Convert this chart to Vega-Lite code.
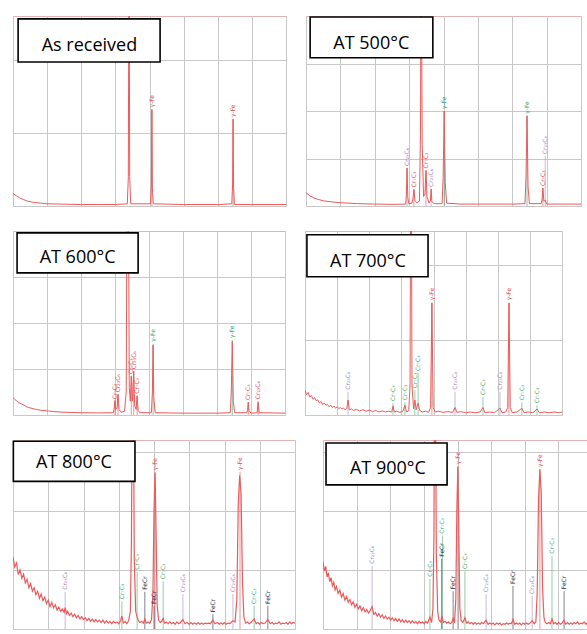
{
  "$schema": "https://vega.github.io/schema/vega-lite/v6.json",
  "background": "white",
  "padding": {"left": 12, "top": 15, "right": 0, "bottom": 0},
  "spacing": 23,
  "config": {
    "view": {"stroke": "#e0b4b4", "strokeWidth": 1},
    "axis": {"grid": true, "gridColor": "#c8c8c8", "gridWidth": 1, "domain": false, "ticks": false, "labels": false}
  },
  "datasets": {
    "p1": [{"t":10,"I":0.17},{"t":11,"I":0.14},{"t":12,"I":0.11},{"t":13,"I":0.09},{"t":14,"I":0.07},{"t":16,"I":0.05},{"t":18,"I":0.04},{"t":20,"I":0.03},{"t":25,"I":0.025},{"t":30,"I":0.02},{"t":35,"I":0.02},{"t":40,"I":0.02},{"t":43.5,"I":0.03},{"t":43.8,"I":0.4},{"t":44.0,"I":4},{"t":44.2,"I":0.4},{"t":44.5,"I":0.03},{"t":50.3,"I":0.03},{"t":50.55,"I":0.3},{"t":50.7,"I":1.32},{"t":50.85,"I":0.25},{"t":51.1,"I":0.03},{"t":60,"I":0.02},{"t":70,"I":0.02},{"t":74.1,"I":0.03},{"t":74.35,"I":0.3},{"t":74.5,"I":1.19},{"t":74.65,"I":0.25},{"t":74.9,"I":0.02},{"t":80,"I":0.02},{"t":90,"I":0.02}],
    "p1l": [{"t":50.7,"I":1.32,"phase":"γ-Fe"},{"t":74.5,"I":1.19,"phase":"γ-Fe"}],
    "p2": [{"t":10,"I":0.28},{"t":11,"I":0.22},{"t":12,"I":0.18},{"t":13,"I":0.15},{"t":14,"I":0.13},{"t":15,"I":0.11},{"t":17,"I":0.09},{"t":20,"I":0.07},{"t":25,"I":0.05},{"t":30,"I":0.04},{"t":35,"I":0.035},{"t":39,"I":0.04},{"t":39.2,"I":0.25},{"t":39.4,"I":0.8},{"t":39.6,"I":0.2},{"t":39.9,"I":0.05},{"t":40.8,"I":0.06},{"t":41.1,"I":0.15},{"t":41.4,"I":0.35},{"t":41.7,"I":0.12},{"t":42.2,"I":0.07},{"t":43.0,"I":0.1},{"t":43.3,"I":1.5},{"t":43.5,"I":6},{"t":43.8,"I":1.3},{"t":44.2,"I":0.2},{"t":44.6,"I":0.25},{"t":44.9,"I":0.75},{"t":45.2,"I":0.2},{"t":45.8,"I":0.06},{"t":46.2,"I":0.12},{"t":46.4,"I":0.36},{"t":46.6,"I":0.1},{"t":47.2,"I":0.05},{"t":49.6,"I":0.05},{"t":49.9,"I":0.6},{"t":50.2,"I":2.0},{"t":50.5,"I":0.5},{"t":50.9,"I":0.06},{"t":55,"I":0.04},{"t":60,"I":0.04},{"t":65,"I":0.04},{"t":70,"I":0.04},{"t":73.7,"I":0.05},{"t":74.0,"I":0.6},{"t":74.3,"I":1.9},{"t":74.6,"I":0.4},{"t":75.0,"I":0.05},{"t":78.4,"I":0.05},{"t":78.7,"I":0.15},{"t":78.9,"I":0.38},{"t":79.2,"I":0.1},{"t":79.6,"I":0.12},{"t":80,"I":0.04},{"t":90,"I":0.04}],
    "p2l": [{"t":39.4,"I":0.8,"phase":"Cr₂₃C₆"},{"t":41.4,"I":0.35,"phase":"Cr₇C₃"},{"t":44.9,"I":0.75,"phase":"Cr₇C₃"},{"t":46.4,"I":0.36,"phase":"Cr₂₃C₆"},{"t":50.2,"I":2.0,"phase":"γ-Fe"},{"t":74.3,"I":1.9,"phase":"γ-Fe"},{"t":78.9,"I":0.38,"phase":"Cr₇C₃"},{"t":79.6,"I":1.05,"phase":"Cr₂₃C₆"}],
    "p3": [{"t":10,"I":0.38},{"t":10.5,"I":0.34},{"t":11,"I":0.31},{"t":11.5,"I":0.28},{"t":12,"I":0.26},{"t":12.5,"I":0.24},{"t":13,"I":0.22},{"t":14,"I":0.18},{"t":15,"I":0.155},{"t":16,"I":0.135},{"t":17,"I":0.12},{"t":18,"I":0.105},{"t":20,"I":0.09},{"t":22,"I":0.075},{"t":25,"I":0.06},{"t":30,"I":0.05},{"t":35,"I":0.045},{"t":39.5,"I":0.05},{"t":39.8,"I":0.15},{"t":40.0,"I":0.32},{"t":40.2,"I":0.12},{"t":40.6,"I":0.15},{"t":40.9,"I":0.45},{"t":41.2,"I":0.12},{"t":41.8,"I":0.06},{"t":42.8,"I":0.08},{"t":43.3,"I":0.5},{"t":43.6,"I":6},{"t":43.9,"I":6},{"t":44.2,"I":0.6},{"t":44.5,"I":0.3},{"t":44.8,"I":0.85},{"t":45.1,"I":0.3},{"t":45.5,"I":0.95},{"t":45.8,"I":0.2},{"t":46.2,"I":0.12},{"t":46.5,"I":0.42},{"t":46.8,"I":0.1},{"t":47.3,"I":0.05},{"t":50.7,"I":0.05},{"t":51.0,"I":0.5},{"t":51.2,"I":1.52},{"t":51.4,"I":0.4},{"t":51.8,"I":0.05},{"t":60,"I":0.04},{"t":70,"I":0.04},{"t":73.9,"I":0.05},{"t":74.2,"I":0.5},{"t":74.5,"I":1.6},{"t":74.8,"I":0.3},{"t":75.2,"I":0.05},{"t":78.8,"I":0.05},{"t":79.0,"I":0.12},{"t":79.2,"I":0.28},{"t":79.4,"I":0.1},{"t":80,"I":0.04},{"t":81.8,"I":0.05},{"t":82.1,"I":0.28},{"t":82.4,"I":0.05},{"t":90,"I":0.04}],
    "p3l": [{"t":40.0,"I":0.3,"phase":"Cr₇C₃"},{"t":40.9,"I":0.45,"phase":"Cr₂₃C₆"},{"t":44.8,"I":0.85,"phase":"Cr₇C₃"},{"t":45.5,"I":0.95,"phase":"Cr₂₃C₆"},{"t":46.5,"I":0.42,"phase":"Cr₇C₃"},{"t":51.2,"I":1.55,"phase":"γ-Fe"},{"t":74.5,"I":1.63,"phase":"γ-Fe"},{"t":79.2,"I":0.28,"phase":"Cr₇C₃"},{"t":82.1,"I":0.3,"phase":"Cr₂₃C₆"}],
    "p4": [{"t":10,"I":0.33},{"t":10.5,"I":0.27},{"t":11,"I":0.3},{"t":11.5,"I":0.24},{"t":12,"I":0.26},{"t":12.5,"I":0.21},{"t":13,"I":0.23},{"t":13.5,"I":0.19},{"t":14,"I":0.2},{"t":14.5,"I":0.16},{"t":15,"I":0.18},{"t":15.5,"I":0.14},{"t":16,"I":0.16},{"t":16.5,"I":0.13},{"t":17,"I":0.14},{"t":17.5,"I":0.11},{"t":18,"I":0.13},{"t":18.5,"I":0.1},{"t":19,"I":0.12},{"t":19.5,"I":0.09},{"t":20,"I":0.11},{"t":20.5,"I":0.085},{"t":21,"I":0.1},{"t":21.5,"I":0.08},{"t":22,"I":0.09},{"t":22.5,"I":0.07},{"t":23,"I":0.085},{"t":23.4,"I":0.2},{"t":23.8,"I":0.07},{"t":24.5,"I":0.08},{"t":25,"I":0.06},{"t":26,"I":0.075},{"t":27,"I":0.055},{"t":28,"I":0.07},{"t":29,"I":0.05},{"t":30,"I":0.065},{"t":31,"I":0.045},{"t":32,"I":0.06},{"t":33,"I":0.04},{"t":34,"I":0.055},{"t":35,"I":0.04},{"t":36,"I":0.05},{"t":37,"I":0.04},{"t":37.4,"I":0.12},{"t":37.8,"I":0.04},{"t":38.5,"I":0.05},{"t":39.5,"I":0.035},{"t":40.5,"I":0.05},{"t":41.1,"I":0.13},{"t":41.6,"I":0.04},{"t":42.3,"I":0.06},{"t":42.7,"I":0.4},{"t":43.0,"I":5},{"t":43.3,"I":0.4},{"t":43.8,"I":0.08},{"t":44.2,"I":0.2},{"t":44.6,"I":0.07},{"t":45.2,"I":0.16},{"t":45.7,"I":0.06},{"t":46.5,"I":0.04},{"t":47.5,"I":0.05},{"t":48.5,"I":0.035},{"t":49.1,"I":0.1},{"t":49.5,"I":1.49},{"t":49.9,"I":0.1},{"t":50.5,"I":0.04},{"t":51.5,"I":0.05},{"t":53,"I":0.035},{"t":54.5,"I":0.045},{"t":56,"I":0.035},{"t":56.7,"I":0.1},{"t":57.3,"I":0.035},{"t":58.5,"I":0.045},{"t":60,"I":0.03},{"t":61.5,"I":0.04},{"t":63,"I":0.03},{"t":64.5,"I":0.04},{"t":65.4,"I":0.1},{"t":66,"I":0.03},{"t":67.5,"I":0.04},{"t":69,"I":0.03},{"t":70.7,"I":0.09},{"t":71.3,"I":0.03},{"t":72.5,"I":0.04},{"t":73.1,"I":0.1},{"t":73.5,"I":1.49},{"t":73.9,"I":0.1},{"t":74.5,"I":0.03},{"t":76,"I":0.04},{"t":77.5,"I":0.09},{"t":78.2,"I":0.03},{"t":79.5,"I":0.04},{"t":81,"I":0.03},{"t":82.2,"I":0.08},{"t":83,"I":0.03},{"t":84.5,"I":0.04},{"t":86,"I":0.03},{"t":87.5,"I":0.04},{"t":89,"I":0.03},{"t":90,"I":0.04}],
    "p4l": [{"t":23.4,"I":0.31,"phase":"Cr₂₃C₆"},{"t":37.4,"I":0.16,"phase":"Cr₇C₃"},{"t":41.1,"I":0.17,"phase":"Cr₇C₃"},{"t":44.2,"I":0.33,"phase":"Cr₇C₃"},{"t":45.2,"I":0.56,"phase":"Cr₇C₃"},{"t":49.5,"I":1.5,"phase":"γ-Fe"},{"t":56.7,"I":0.31,"phase":"Cr₂₃C₆"},{"t":65.4,"I":0.24,"phase":"Cr₇C₃"},{"t":70.7,"I":0.31,"phase":"Cr₂₃C₆"},{"t":73.5,"I":1.5,"phase":"γ-Fe"},{"t":77.5,"I":0.17,"phase":"Cr₇C₃"},{"t":82.2,"I":0.13,"phase":"Cr₇C₃"}],
    "p5": [{"t":10,"I":1.22},{"t":10.5,"I":1.05},{"t":11,"I":1.12},{"t":11.5,"I":0.92},{"t":12,"I":1.0},{"t":12.5,"I":0.86},{"t":13,"I":0.93},{"t":13.5,"I":0.78},{"t":14,"I":0.84},{"t":14.5,"I":0.7},{"t":15,"I":0.77},{"t":15.5,"I":0.64},{"t":16,"I":0.7},{"t":16.5,"I":0.58},{"t":17,"I":0.64},{"t":17.5,"I":0.52},{"t":18,"I":0.59},{"t":18.5,"I":0.48},{"t":19,"I":0.54},{"t":19.5,"I":0.43},{"t":20,"I":0.49},{"t":20.5,"I":0.38},{"t":21,"I":0.45},{"t":21.5,"I":0.36},{"t":22,"I":0.41},{"t":22.5,"I":0.32},{"t":23,"I":0.37},{"t":23.5,"I":0.3},{"t":24,"I":0.34},{"t":24.5,"I":0.28},{"t":24.8,"I":0.36},{"t":25.2,"I":0.26},{"t":25.5,"I":0.3},{"t":26,"I":0.23},{"t":26.5,"I":0.27},{"t":27,"I":0.21},{"t":27.5,"I":0.25},{"t":28,"I":0.19},{"t":28.5,"I":0.23},{"t":29,"I":0.17},{"t":29.5,"I":0.21},{"t":30,"I":0.16},{"t":30.5,"I":0.19},{"t":31,"I":0.14},{"t":31.5,"I":0.18},{"t":32,"I":0.13},{"t":32.5,"I":0.17},{"t":33,"I":0.12},{"t":33.5,"I":0.16},{"t":34,"I":0.12},{"t":34.5,"I":0.15},{"t":35,"I":0.11},{"t":35.5,"I":0.15},{"t":36,"I":0.1},{"t":36.5,"I":0.14},{"t":37,"I":0.1},{"t":37.5,"I":0.13},{"t":38,"I":0.09},{"t":38.5,"I":0.13},{"t":39,"I":0.1},{"t":39.5,"I":0.12},{"t":40,"I":0.09},{"t":40.5,"I":0.14},{"t":40.9,"I":0.22},{"t":41.3,"I":0.1},{"t":41.8,"I":0.13},{"t":42.3,"I":0.09},{"t":42.8,"I":0.14},{"t":43.3,"I":0.3},{"t":43.6,"I":1.5},{"t":44.0,"I":6},{"t":44.4,"I":1.2},{"t":44.8,"I":0.3},{"t":45.2,"I":0.2},{"t":45.6,"I":0.14},{"t":46.0,"I":0.11},{"t":46.5,"I":0.13},{"t":47.0,"I":0.1},{"t":47.4,"I":0.17},{"t":47.8,"I":0.1},{"t":48.3,"I":0.12},{"t":48.8,"I":0.1},{"t":49.3,"I":0.16},{"t":49.7,"I":0.6},{"t":50.0,"I":2.0},{"t":50.3,"I":2.65},{"t":50.6,"I":1.6},{"t":50.9,"I":0.4},{"t":51.3,"I":0.15},{"t":51.8,"I":0.11},{"t":52.2,"I":0.13},{"t":52.6,"I":0.18},{"t":53.0,"I":0.1},{"t":53.5,"I":0.12},{"t":54,"I":0.09},{"t":54.5,"I":0.12},{"t":55,"I":0.09},{"t":55.5,"I":0.11},{"t":56,"I":0.08},{"t":56.5,"I":0.12},{"t":57,"I":0.09},{"t":57.5,"I":0.11},{"t":58.2,"I":0.16},{"t":58.8,"I":0.09},{"t":59.3,"I":0.11},{"t":60,"I":0.08},{"t":60.5,"I":0.11},{"t":61,"I":0.08},{"t":61.5,"I":0.1},{"t":62,"I":0.08},{"t":62.5,"I":0.11},{"t":63,"I":0.08},{"t":63.5,"I":0.1},{"t":64,"I":0.08},{"t":64.5,"I":0.1},{"t":65,"I":0.09},{"t":65.5,"I":0.1},{"t":66,"I":0.09},{"t":66.7,"I":0.15},{"t":67.3,"I":0.09},{"t":68,"I":0.11},{"t":68.5,"I":0.08},{"t":69,"I":0.1},{"t":69.5,"I":0.08},{"t":70,"I":0.11},{"t":70.5,"I":0.08},{"t":71,"I":0.1},{"t":71.5,"I":0.09},{"t":72.4,"I":0.14},{"t":73.0,"I":0.12},{"t":73.5,"I":0.5},{"t":73.9,"I":2.1},{"t":74.3,"I":2.6},{"t":74.7,"I":2.3},{"t":75.1,"I":0.8},{"t":75.5,"I":0.2},{"t":76,"I":0.1},{"t":76.5,"I":0.12},{"t":77,"I":0.09},{"t":77.5,"I":0.11},{"t":78.4,"I":0.17},{"t":79,"I":0.09},{"t":79.5,"I":0.11},{"t":80,"I":0.08},{"t":80.5,"I":0.11},{"t":81,"I":0.09},{"t":81.5,"I":0.1},{"t":82.3,"I":0.16},{"t":83,"I":0.09},{"t":83.5,"I":0.11},{"t":84,"I":0.08},{"t":84.5,"I":0.1},{"t":85,"I":0.09},{"t":85.5,"I":0.12},{"t":86,"I":0.08},{"t":86.5,"I":0.1},{"t":87,"I":0.09},{"t":87.5,"I":0.11},{"t":88,"I":0.08},{"t":88.5,"I":0.12},{"t":89,"I":0.09},{"t":89.5,"I":0.11},{"t":90,"I":0.1}],
    "p5l": [{"t":24.8,"I":0.63,"phase":"Cr₂₃C₆"},{"t":40.9,"I":0.47,"phase":"Cr₇C₃"},{"t":45.2,"I":0.97,"phase":"Cr₇C₃"},{"t":47.4,"I":0.63,"phase":"FeCr"},{"t":50.0,"I":0.39,"phase":"FeCr"},{"t":52.6,"I":0.81,"phase":"Cr₇C₃"},{"t":58.2,"I":0.59,"phase":"Cr₂₃C₆"},{"t":66.7,"I":0.25,"phase":"FeCr"},{"t":72.4,"I":0.59,"phase":"Cr₂₃C₆"},{"t":78.4,"I":0.39,"phase":"Cr₇C₃"},{"t":82.3,"I":0.39,"phase":"FeCr"},{"t":50.3,"I":2.65,"phase":"γ-Fe"},{"t":74.4,"I":2.66,"phase":"γ-Fe"}],
    "p6": [{"t":10,"I":1.14},{"t":10.4,"I":0.98},{"t":10.8,"I":1.06},{"t":11.2,"I":0.88},{"t":11.6,"I":0.95},{"t":12,"I":0.8},{"t":12.4,"I":0.87},{"t":12.8,"I":0.73},{"t":13.2,"I":0.79},{"t":13.6,"I":0.66},{"t":14,"I":0.72},{"t":14.5,"I":0.6},{"t":15,"I":0.66},{"t":15.5,"I":0.54},{"t":16,"I":0.6},{"t":16.5,"I":0.49},{"t":17,"I":0.55},{"t":17.5,"I":0.45},{"t":18,"I":0.5},{"t":18.5,"I":0.41},{"t":19,"I":0.46},{"t":19.5,"I":0.37},{"t":20,"I":0.42},{"t":20.5,"I":0.34},{"t":21,"I":0.39},{"t":21.5,"I":0.31},{"t":22,"I":0.36},{"t":22.5,"I":0.29},{"t":23,"I":0.33},{"t":23.5,"I":0.27},{"t":24,"I":0.31},{"t":24.6,"I":0.38},{"t":25.1,"I":0.25},{"t":25.6,"I":0.28},{"t":26.1,"I":0.22},{"t":26.6,"I":0.26},{"t":27.1,"I":0.2},{"t":27.6,"I":0.24},{"t":28.1,"I":0.18},{"t":28.6,"I":0.22},{"t":29.1,"I":0.17},{"t":29.6,"I":0.2},{"t":30.1,"I":0.15},{"t":30.6,"I":0.19},{"t":31.1,"I":0.14},{"t":31.6,"I":0.18},{"t":32.1,"I":0.13},{"t":32.6,"I":0.17},{"t":33.1,"I":0.12},{"t":33.6,"I":0.16},{"t":34.1,"I":0.11},{"t":34.6,"I":0.15},{"t":35.1,"I":0.11},{"t":35.6,"I":0.14},{"t":36.1,"I":0.1},{"t":36.6,"I":0.14},{"t":37.1,"I":0.1},{"t":37.6,"I":0.13},{"t":38.1,"I":0.09},{"t":38.6,"I":0.13},{"t":39.1,"I":0.1},{"t":39.6,"I":0.12},{"t":40.1,"I":0.09},{"t":40.6,"I":0.13},{"t":41.1,"I":0.1},{"t":41.8,"I":0.2},{"t":42.3,"I":0.11},{"t":42.7,"I":0.35},{"t":43.0,"I":1.6},{"t":43.3,"I":6},{"t":43.7,"I":1.3},{"t":44.1,"I":0.3},{"t":44.5,"I":0.15},{"t":45.0,"I":0.12},{"t":45.4,"I":0.22},{"t":45.8,"I":0.11},{"t":46.3,"I":0.13},{"t":46.8,"I":0.1},{"t":47.3,"I":0.12},{"t":47.8,"I":0.09},{"t":48.3,"I":0.11},{"t":48.7,"I":0.18},{"t":49.1,"I":0.1},{"t":49.5,"I":0.5},{"t":49.8,"I":2.0},{"t":50.1,"I":2.75},{"t":50.4,"I":1.6},{"t":50.7,"I":0.35},{"t":51.1,"I":0.14},{"t":51.6,"I":0.11},{"t":52.2,"I":0.19},{"t":52.7,"I":0.1},{"t":53.2,"I":0.12},{"t":53.7,"I":0.09},{"t":54.2,"I":0.11},{"t":54.7,"I":0.08},{"t":55.2,"I":0.11},{"t":55.7,"I":0.08},{"t":56.2,"I":0.1},{"t":56.7,"I":0.08},{"t":57.2,"I":0.11},{"t":57.7,"I":0.09},{"t":58.5,"I":0.15},{"t":59.1,"I":0.08},{"t":59.6,"I":0.1},{"t":60.1,"I":0.08},{"t":60.6,"I":0.1},{"t":61.1,"I":0.07},{"t":61.6,"I":0.1},{"t":62.1,"I":0.08},{"t":62.6,"I":0.1},{"t":63.1,"I":0.07},{"t":63.6,"I":0.09},{"t":64.1,"I":0.08},{"t":64.6,"I":0.1},{"t":65.1,"I":0.08},{"t":65.6,"I":0.1},{"t":66.0,"I":0.09},{"t":66.5,"I":0.16},{"t":67.0,"I":0.08},{"t":67.5,"I":0.1},{"t":68.0,"I":0.08},{"t":68.5,"I":0.1},{"t":69.0,"I":0.07},{"t":69.5,"I":0.1},{"t":70.0,"I":0.08},{"t":70.5,"I":0.1},{"t":71.0,"I":0.08},{"t":71.6,"I":0.1},{"t":72.2,"I":0.14},{"t":72.8,"I":0.09},{"t":73.3,"I":0.12},{"t":73.7,"I":0.6},{"t":74.1,"I":2.2},{"t":74.5,"I":2.7},{"t":74.9,"I":2.3},{"t":75.3,"I":0.7},{"t":75.7,"I":0.2},{"t":76.1,"I":0.11},{"t":76.6,"I":0.09},{"t":77.1,"I":0.11},{"t":77.6,"I":0.09},{"t":78.1,"I":0.17},{"t":78.6,"I":0.09},{"t":79.1,"I":0.11},{"t":79.6,"I":0.08},{"t":80.1,"I":0.11},{"t":80.6,"I":0.08},{"t":81.1,"I":0.1},{"t":81.7,"I":0.15},{"t":82.2,"I":0.08},{"t":82.7,"I":0.11},{"t":83.2,"I":0.08},{"t":83.7,"I":0.1},{"t":84.2,"I":0.08},{"t":84.7,"I":0.11},{"t":85.2,"I":0.09},{"t":85.7,"I":0.12},{"t":86.2,"I":0.08},{"t":86.7,"I":0.1},{"t":87.2,"I":0.09},{"t":87.7,"I":0.12},{"t":88.2,"I":0.08},{"t":88.7,"I":0.11},{"t":89.2,"I":0.09},{"t":89.7,"I":0.12}],
    "p6l": [{"t":24.6,"I":1.07,"phase":"Cr₂₃C₆"},{"t":41.8,"I":0.85,"phase":"Cr₇C₃"},{"t":45.5,"I":1.58,"phase":"Cr₇C₃"},{"t":45.3,"I":1.19,"phase":"FeCr"},{"t":48.7,"I":0.64,"phase":"FeCr"},{"t":52.2,"I":0.98,"phase":"Cr₇C₃"},{"t":58.5,"I":0.59,"phase":"Cr₂₃C₆"},{"t":66.5,"I":0.73,"phase":"FeCr"},{"t":72.2,"I":0.56,"phase":"Cr₂₃C₆"},{"t":78.1,"I":1.24,"phase":"Cr₇C₃"},{"t":81.7,"I":0.64,"phase":"FeCr"},{"t":50.1,"I":2.75,"phase":"γ-Fe"},{"t":74.5,"I":2.71,"phase":"γ-Fe"}],
    "titles": [{"panel": "p1", "title": "As received"}, {"panel": "p2", "title": "AT 500°C"}, {"panel": "p3", "title": "AT 600°C"}, {"panel": "p4", "title": "AT 700°C"}, {"panel": "p5", "title": "AT 800°C"}, {"panel": "p6", "title": "AT 900°C"}]
  },
  "resolve": {"scale": {"x": "independent", "y": "independent", "color": "independent"}},
  "vconcat": [
    {
      "hconcat": [
        {
          "width": 273, "height": 190,
          "layer": [
            {"data": {"name": "p1l"}, "mark": {"type": "rule", "strokeWidth": 0.7, "opacity": 0.8}, "encoding": {"x": {"field": "t", "type": "quantitative", "scale": {"domain": [10, 90], "nice": false}, "axis": {"values": [10,20,30,40,50,60,70,80,90], "title": null}}, "y": {"field": "I", "type": "quantitative", "scale": {"domain": [0, 2.6], "nice": false, "zero": false}, "axis": {"values": [0,1,2], "title": null}}, "y2": {"datum": 0}, "color": {"field": "phase", "type": "nominal", "scale": {"domain": ["γ-Fe"], "range": ["#e0404a"]}, "legend": null}}},
            {"data": {"name": "p1"}, "mark": {"type": "line", "color": "#ee5a5a", "strokeWidth": 1, "clip": true}, "encoding": {"x": {"field": "t", "type": "quantitative", "scale": {"domain": [10, 90], "nice": false}, "axis": {"values": [10,20,30,40,50,60,70,80,90], "title": null}}, "y": {"field": "I", "type": "quantitative", "scale": {"domain": [0, 2.6], "nice": false, "zero": false}, "axis": {"values": [0,1,2], "title": null}}}},
            {"data": {"name": "p1l"}, "mark": {"type": "text", "angle": 270, "align": "left", "baseline": "middle", "dx": 2, "fontSize": 6, "font": "DejaVu Sans"}, "encoding": {"x": {"field": "t", "type": "quantitative", "scale": {"domain": [10, 90], "nice": false}, "axis": {"values": [10,20,30,40,50,60,70,80,90], "title": null}}, "y": {"field": "I", "type": "quantitative", "scale": {"domain": [0, 2.6], "nice": false, "zero": false}, "axis": {"values": [0,1,2], "title": null}}, "text": {"field": "phase"}, "color": {"field": "phase", "type": "nominal", "scale": {"domain": ["γ-Fe"], "range": ["#e0404a"]}, "legend": null}}},
            {"data": {"name": "titles"}, "transform": [{"filter": "datum.panel === 'p1'"}], "mark": {"type": "rect", "fill": "white", "stroke": "black", "strokeWidth": 1.6}, "encoding": {"x": {"datum": 11.5, "axis": {"values": [10,20,30,40,50,60,70,80,90], "title": null}}, "x2": {"datum": 53.1}, "y": {"datum": 2.56, "axis": {"values": [0,1,2], "title": null}}, "y2": {"datum": 1.97}}},
            {"data": {"name": "titles"}, "transform": [{"filter": "datum.panel === 'p1'"}], "mark": {"type": "text", "font": "Open Sans", "fontSize": 18, "color": "black", "baseline": "alphabetic"}, "encoding": {"x": {"datum": 32.4, "axis": {"values": [10,20,30,40,50,60,70,80,90], "title": null}}, "y": {"datum": 2.12, "axis": {"values": [0,1,2], "title": null}}, "text": {"field": "title"}}}
          ]
        },
        {
          "width": 275, "height": 190,
          "layer": [
            {"data": {"name": "p2l"}, "mark": {"type": "rule", "strokeWidth": 0.7, "opacity": 0.8}, "encoding": {"x": {"field": "t", "type": "quantitative", "scale": {"domain": [10, 90], "nice": false}, "axis": {"values": [10,20,30,40,50,60,70,80,90], "title": null}}, "y": {"field": "I", "type": "quantitative", "scale": {"domain": [0, 4], "nice": false, "zero": false}, "axis": {"values": [0,1,2,3], "title": null}}, "y2": {"datum": 0}, "color": {"field": "phase", "type": "nominal", "scale": {"domain": ["γ-Fe", "Cr₇C₃", "Cr₂₃C₆"], "range": ["#2a9d78", "#e0404a", "#a080b8"]}, "legend": null}}},
            {"data": {"name": "p2"}, "mark": {"type": "line", "color": "#ee5a5a", "strokeWidth": 1, "clip": true}, "encoding": {"x": {"field": "t", "type": "quantitative", "scale": {"domain": [10, 90], "nice": false}, "axis": {"values": [10,20,30,40,50,60,70,80,90], "title": null}}, "y": {"field": "I", "type": "quantitative", "scale": {"domain": [0, 4], "nice": false, "zero": false}, "axis": {"values": [0,1,2,3], "title": null}}}},
            {"data": {"name": "p2l"}, "mark": {"type": "text", "angle": 270, "align": "left", "baseline": "middle", "dx": 2, "fontSize": 6, "font": "DejaVu Sans"}, "encoding": {"x": {"field": "t", "type": "quantitative", "scale": {"domain": [10, 90], "nice": false}, "axis": {"values": [10,20,30,40,50,60,70,80,90], "title": null}}, "y": {"field": "I", "type": "quantitative", "scale": {"domain": [0, 4], "nice": false, "zero": false}, "axis": {"values": [0,1,2,3], "title": null}}, "text": {"field": "phase"}, "color": {"field": "phase", "type": "nominal", "scale": {"domain": ["γ-Fe", "Cr₇C₃", "Cr₂₃C₆"], "range": ["#2a9d78", "#e0404a", "#a080b8"]}, "legend": null}}},
            {"data": {"name": "titles"}, "transform": [{"filter": "datum.panel === 'p2'"}], "mark": {"type": "rect", "fill": "white", "stroke": "black", "strokeWidth": 1.6}, "encoding": {"x": {"datum": 11.2, "axis": {"values": [10,20,30,40,50,60,70,80,90], "title": null}}, "x2": {"datum": 46.9}, "y": {"datum": 3.98, "axis": {"values": [0,1,2,3], "title": null}}, "y2": {"datum": 3.12}}},
            {"data": {"name": "titles"}, "transform": [{"filter": "datum.panel === 'p2'"}], "mark": {"type": "text", "font": "Open Sans", "fontSize": 18, "color": "black", "baseline": "alphabetic"}, "encoding": {"x": {"datum": 29.0, "axis": {"values": [10,20,30,40,50,60,70,80,90], "title": null}}, "y": {"datum": 3.31, "axis": {"values": [0,1,2,3], "title": null}}, "text": {"field": "title"}}}
          ]
        }
      ],
      "spacing": 20,
      "bounds": "flush",
      "resolve": {"scale": {"x": "independent", "y": "independent", "color": "independent"}}
    },
    {
      "hconcat": [
        {
          "width": 272, "height": 184,
          "layer": [
            {"data": {"name": "p3l"}, "mark": {"type": "rule", "strokeWidth": 0.7, "opacity": 0.8}, "encoding": {"x": {"field": "t", "type": "quantitative", "scale": {"domain": [10, 90], "nice": false}, "axis": {"values": [10,20,30,40,50,60,70,80,90], "title": null}}, "y": {"field": "I", "type": "quantitative", "scale": {"domain": [0, 4], "nice": false, "zero": false}, "axis": {"values": [0,1,2,3], "title": null}}, "y2": {"datum": 0}, "color": {"field": "phase", "type": "nominal", "scale": {"domain": ["γ-Fe", "Cr₇C₃", "Cr₂₃C₆"], "range": ["#2a9d78", "#e0404a", "#e0404a"]}, "legend": null}}},
            {"data": {"name": "p3"}, "mark": {"type": "line", "color": "#ee5a5a", "strokeWidth": 1, "clip": true}, "encoding": {"x": {"field": "t", "type": "quantitative", "scale": {"domain": [10, 90], "nice": false}, "axis": {"values": [10,20,30,40,50,60,70,80,90], "title": null}}, "y": {"field": "I", "type": "quantitative", "scale": {"domain": [0, 4], "nice": false, "zero": false}, "axis": {"values": [0,1,2,3], "title": null}}}},
            {"data": {"name": "p3l"}, "mark": {"type": "text", "angle": 270, "align": "left", "baseline": "middle", "dx": 2, "fontSize": 6, "font": "DejaVu Sans"}, "encoding": {"x": {"field": "t", "type": "quantitative", "scale": {"domain": [10, 90], "nice": false}, "axis": {"values": [10,20,30,40,50,60,70,80,90], "title": null}}, "y": {"field": "I", "type": "quantitative", "scale": {"domain": [0, 4], "nice": false, "zero": false}, "axis": {"values": [0,1,2,3], "title": null}}, "text": {"field": "phase"}, "color": {"field": "phase", "type": "nominal", "scale": {"domain": ["γ-Fe", "Cr₇C₃", "Cr₂₃C₆"], "range": ["#2a9d78", "#e0404a", "#e0404a"]}, "legend": null}}},
            {"data": {"name": "titles"}, "transform": [{"filter": "datum.panel === 'p3'"}], "mark": {"type": "rect", "fill": "white", "stroke": "black", "strokeWidth": 1.6}, "encoding": {"x": {"datum": 11.2, "axis": {"values": [10,20,30,40,50,60,70,80,90], "title": null}}, "x2": {"datum": 46.8}, "y": {"datum": 3.96, "axis": {"values": [0,1,2,3], "title": null}}, "y2": {"datum": 3.09}}},
            {"data": {"name": "titles"}, "transform": [{"filter": "datum.panel === 'p3'"}], "mark": {"type": "text", "font": "Open Sans", "fontSize": 18, "color": "black", "baseline": "alphabetic"}, "encoding": {"x": {"datum": 29.0, "axis": {"values": [10,20,30,40,50,60,70,80,90], "title": null}}, "y": {"datum": 3.3, "axis": {"values": [0,1,2,3], "title": null}}, "text": {"field": "title"}}}
          ]
        },
        {
          "width": 257, "height": 184,
          "layer": [
            {"data": {"name": "p4l"}, "mark": {"type": "rule", "strokeWidth": 0.7, "opacity": 0.8}, "encoding": {"x": {"field": "t", "type": "quantitative", "scale": {"domain": [10, 90], "nice": false}, "axis": {"values": [10,20,30,40,50,60,70,80,90], "title": null}}, "y": {"field": "I", "type": "quantitative", "scale": {"domain": [0, 2.45], "nice": false, "zero": false}, "axis": {"values": [0,1,2], "title": null}}, "y2": {"datum": 0}, "color": {"field": "phase", "type": "nominal", "scale": {"domain": ["γ-Fe", "Cr₇C₃", "Cr₂₃C₆"], "range": ["#e0404a", "#3aa86a", "#a080b8"]}, "legend": null}}},
            {"data": {"name": "p4"}, "mark": {"type": "line", "color": "#ee5a5a", "strokeWidth": 1, "clip": true}, "encoding": {"x": {"field": "t", "type": "quantitative", "scale": {"domain": [10, 90], "nice": false}, "axis": {"values": [10,20,30,40,50,60,70,80,90], "title": null}}, "y": {"field": "I", "type": "quantitative", "scale": {"domain": [0, 2.45], "nice": false, "zero": false}, "axis": {"values": [0,1,2], "title": null}}}},
            {"data": {"name": "p4l"}, "mark": {"type": "text", "angle": 270, "align": "left", "baseline": "middle", "dx": 2, "fontSize": 6, "font": "DejaVu Sans"}, "encoding": {"x": {"field": "t", "type": "quantitative", "scale": {"domain": [10, 90], "nice": false}, "axis": {"values": [10,20,30,40,50,60,70,80,90], "title": null}}, "y": {"field": "I", "type": "quantitative", "scale": {"domain": [0, 2.45], "nice": false, "zero": false}, "axis": {"values": [0,1,2], "title": null}}, "text": {"field": "phase"}, "color": {"field": "phase", "type": "nominal", "scale": {"domain": ["γ-Fe", "Cr₇C₃", "Cr₂₃C₆"], "range": ["#e0404a", "#3aa86a", "#a080b8"]}, "legend": null}}},
            {"data": {"name": "titles"}, "transform": [{"filter": "datum.panel === 'p4'"}], "mark": {"type": "rect", "fill": "white", "stroke": "black", "strokeWidth": 1.6}, "encoding": {"x": {"datum": 10.6, "axis": {"values": [10,20,30,40,50,60,70,80,90], "title": null}}, "x2": {"datum": 48.3}, "y": {"datum": 2.4, "axis": {"values": [0,1,2], "title": null}}, "y2": {"datum": 1.84}}},
            {"data": {"name": "titles"}, "transform": [{"filter": "datum.panel === 'p4'"}], "mark": {"type": "text", "font": "Open Sans", "fontSize": 18, "color": "black", "baseline": "alphabetic"}, "encoding": {"x": {"datum": 29.6, "axis": {"values": [10,20,30,40,50,60,70,80,90], "title": null}}, "y": {"datum": 1.97, "axis": {"values": [0,1,2], "title": null}}, "text": {"field": "title"}}}
          ]
        }
      ],
      "spacing": 20,
      "bounds": "flush",
      "resolve": {"scale": {"x": "independent", "y": "independent", "color": "independent"}}
    },
    {
      "hconcat": [
        {
          "width": 282, "height": 189,
          "layer": [
            {"data": {"name": "p5l"}, "mark": {"type": "rule", "strokeWidth": 0.7, "opacity": 0.8}, "encoding": {"x": {"field": "t", "type": "quantitative", "scale": {"domain": [10, 90], "nice": false}, "axis": {"values": [10,20,30,40,50,60,70,80,90], "title": null}}, "y": {"field": "I", "type": "quantitative", "scale": {"domain": [0, 3.2], "nice": false, "zero": false}, "axis": {"values": [0,1,2,3], "title": null}}, "y2": {"datum": 0}, "color": {"field": "phase", "type": "nominal", "scale": {"domain": ["γ-Fe", "Cr₇C₃", "Cr₂₃C₆", "FeCr"], "range": ["#e0404a", "#3aa86a", "#a080b8", "#1c1c3c"]}, "legend": null}}},
            {"data": {"name": "p5"}, "mark": {"type": "line", "color": "#ee5a5a", "strokeWidth": 1.2, "clip": true}, "encoding": {"x": {"field": "t", "type": "quantitative", "scale": {"domain": [10, 90], "nice": false}, "axis": {"values": [10,20,30,40,50,60,70,80,90], "title": null}}, "y": {"field": "I", "type": "quantitative", "scale": {"domain": [0, 3.2], "nice": false, "zero": false}, "axis": {"values": [0,1,2,3], "title": null}}}},
            {"data": {"name": "p5l"}, "mark": {"type": "text", "angle": 270, "align": "left", "baseline": "middle", "dx": 2, "fontSize": 6, "font": "DejaVu Sans"}, "encoding": {"x": {"field": "t", "type": "quantitative", "scale": {"domain": [10, 90], "nice": false}, "axis": {"values": [10,20,30,40,50,60,70,80,90], "title": null}}, "y": {"field": "I", "type": "quantitative", "scale": {"domain": [0, 3.2], "nice": false, "zero": false}, "axis": {"values": [0,1,2,3], "title": null}}, "text": {"field": "phase"}, "color": {"field": "phase", "type": "nominal", "scale": {"domain": ["γ-Fe", "Cr₇C₃", "Cr₂₃C₆", "FeCr"], "range": ["#e0404a", "#3aa86a", "#a080b8", "#1c1c3c"]}, "legend": null}}},
            {"data": {"name": "titles"}, "transform": [{"filter": "datum.panel === 'p5'"}], "mark": {"type": "rect", "fill": "white", "stroke": "black", "strokeWidth": 1.6}, "encoding": {"x": {"datum": 10.1, "axis": {"values": [10,20,30,40,50,60,70,80,90], "title": null}}, "x2": {"datum": 44.6}, "y": {"datum": 3.18, "axis": {"values": [0,1,2,3], "title": null}}, "y2": {"datum": 2.5}}},
            {"data": {"name": "titles"}, "transform": [{"filter": "datum.panel === 'p5'"}], "mark": {"type": "text", "font": "Open Sans", "fontSize": 18, "color": "black", "baseline": "alphabetic"}, "encoding": {"x": {"datum": 27.3, "axis": {"values": [10,20,30,40,50,60,70,80,90], "title": null}}, "y": {"datum": 2.72, "axis": {"values": [0,1,2,3], "title": null}}, "text": {"field": "title"}}}
          ]
        },
        {
          "width": 269, "height": 189,
          "layer": [
            {"data": {"name": "p6l"}, "mark": {"type": "rule", "strokeWidth": 0.7, "opacity": 0.8}, "encoding": {"x": {"field": "t", "type": "quantitative", "scale": {"domain": [10, 90], "nice": false}, "axis": {"values": [10,20,30,40,50,60,70,80,90], "title": null}}, "y": {"field": "I", "type": "quantitative", "scale": {"domain": [0, 3.2], "nice": false, "zero": false}, "axis": {"values": [0,1,2,3], "title": null}}, "y2": {"datum": 0}, "color": {"field": "phase", "type": "nominal", "scale": {"domain": ["γ-Fe", "Cr₇C₃", "Cr₂₃C₆", "FeCr"], "range": ["#e0404a", "#3aa86a", "#a080b8", "#1c1c3c"]}, "legend": null}}},
            {"data": {"name": "p6"}, "mark": {"type": "line", "color": "#ee5a5a", "strokeWidth": 1.2, "clip": true}, "encoding": {"x": {"field": "t", "type": "quantitative", "scale": {"domain": [10, 90], "nice": false}, "axis": {"values": [10,20,30,40,50,60,70,80,90], "title": null}}, "y": {"field": "I", "type": "quantitative", "scale": {"domain": [0, 3.2], "nice": false, "zero": false}, "axis": {"values": [0,1,2,3], "title": null}}}},
            {"data": {"name": "p6l"}, "mark": {"type": "text", "angle": 270, "align": "left", "baseline": "middle", "dx": 2, "fontSize": 6, "font": "DejaVu Sans"}, "encoding": {"x": {"field": "t", "type": "quantitative", "scale": {"domain": [10, 90], "nice": false}, "axis": {"values": [10,20,30,40,50,60,70,80,90], "title": null}}, "y": {"field": "I", "type": "quantitative", "scale": {"domain": [0, 3.2], "nice": false, "zero": false}, "axis": {"values": [0,1,2,3], "title": null}}, "text": {"field": "phase"}, "color": {"field": "phase", "type": "nominal", "scale": {"domain": ["γ-Fe", "Cr₇C₃", "Cr₂₃C₆", "FeCr"], "range": ["#e0404a", "#3aa86a", "#a080b8", "#1c1c3c"]}, "legend": null}}},
            {"data": {"name": "titles"}, "transform": [{"filter": "datum.panel === 'p6'"}], "mark": {"type": "rect", "fill": "white", "stroke": "black", "strokeWidth": 1.6}, "encoding": {"x": {"datum": 10.9, "axis": {"values": [10,20,30,40,50,60,70,80,90], "title": null}}, "x2": {"datum": 46.9}, "y": {"datum": 3.15, "axis": {"values": [0,1,2,3], "title": null}}, "y2": {"datum": 2.44}}},
            {"data": {"name": "titles"}, "transform": [{"filter": "datum.panel === 'p6'"}], "mark": {"type": "text", "font": "Open Sans", "fontSize": 18, "color": "black", "baseline": "alphabetic"}, "encoding": {"x": {"datum": 29.3, "axis": {"values": [10,20,30,40,50,60,70,80,90], "title": null}}, "y": {"datum": 2.63, "axis": {"values": [0,1,2,3], "title": null}}, "text": {"field": "title"}}}
          ]
        }
      ],
      "spacing": 28,
      "bounds": "flush",
      "resolve": {"scale": {"x": "independent", "y": "independent", "color": "independent"}}
    }
  ]
}
